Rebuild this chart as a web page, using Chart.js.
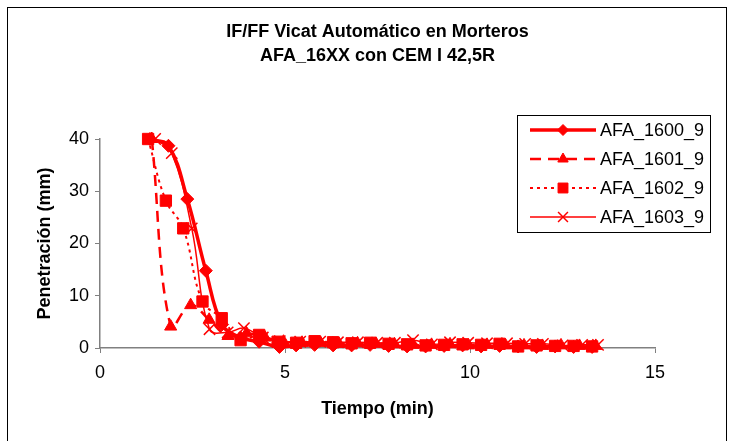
<!DOCTYPE html>
<html>
<head>
<meta charset="utf-8">
<script src="https://cdn.jsdelivr.net/npm/chart.js@4.4.1/dist/chart.umd.min.js"></script>
<style>
  html, body { margin: 0; padding: 0; background: #fff; }
  #wrap { width: 730px; height: 441px; }
</style>
</head>
<body>
<div id="wrap"><canvas id="grafico" width="730" height="441"></canvas></div>
<script>
// Textos do gráfico
const titulo = ['IF/FF Vicat Automático en Morteros', 'AFA_16XX con CEM I 42,5R'];
const tituloX = 'Tiempo (min)';
const tituloY = 'Penetración (mm)';
const nomesSeries = ['AFA_1600_9', 'AFA_1601_9', 'AFA_1602_9', 'AFA_1603_9'];

// Tempos (min) e penetração (mm) por série
const tempo1600 = [1.35, 1.85, 2.36, 2.86, 3.3, 3.8, 4.3, 4.85, 5.3, 5.8, 6.3, 6.8, 7.3, 7.8, 8.3, 8.8, 9.3, 9.8, 10.3, 10.8, 11.3, 11.8, 12.3, 12.8, 13.3];
const pen1600 = [40, 38.7, 28.5, 14.8, 4.5, 2.0, 1.2, 0.2, 0.5, 0.6, 0.5, 0.5, 0.6, 0.4, 0.3, 0.3, 0.4, 0.5, 0.3, 0.4, 0.3, 0.2, 0.3, 0.2, 0.2];

const tempo1601 = [1.4, 1.91, 2.45, 2.95, 3.46, 3.96, 4.46, 4.96, 5.46, 5.96, 6.46, 6.96, 7.46, 7.96, 8.46, 8.96, 9.46, 9.96, 10.46, 10.96, 11.46, 11.96, 12.46, 12.96, 13.4];
const pen1601 = [40, 4.1, 8.2, 5.4, 2.3, 2.8, 2.0, 1.2, 1.0, 1.0, 0.8, 0.9, 0.8, 0.7, 0.6, 0.6, 0.7, 0.5, 0.6, 0.5, 0.5, 0.4, 0.5, 0.4, 0.4];

const tempo1602 = [1.3, 1.78, 2.25, 2.77, 3.29, 3.8, 4.3, 4.8, 5.3, 5.8, 6.3, 6.8, 7.3, 7.8, 8.3, 8.8, 9.3, 9.8, 10.3, 10.8, 11.3, 11.8, 12.3, 12.8, 13.3];
const pen1602 = [40, 28.2, 22.9, 8.9, 5.7, 1.5, 2.5, 1.2, 1.0, 1.3, 1.1, 0.9, 1.0, 0.8, 0.7, 0.5, 0.6, 0.7, 0.6, 0.8, 0.3, 0.5, 0.4, 0.4, 0.3];

const tempo1603 = [1.49, 1.94, 2.48, 2.96, 3.45, 3.89, 4.4, 4.86, 5.41, 5.95, 6.43, 6.97, 7.49, 7.97, 8.46, 8.97, 9.46, 9.95, 10.46, 11.0, 11.49, 11.97, 12.5, 13.03, 13.46];
const pen1603 = [40, 37.3, 22.9, 3.6, 3.0, 3.8, 2.0, 1.3, 1.2, 1.2, 1.1, 1.1, 1.0, 1.0, 1.5, 0.7, 1.1, 1.0, 0.9, 0.9, 0.8, 0.8, 0.5, 0.6, 0.6];

// Eixos
const eixoX = { min: 0, max: 15, passo: 5 };
const eixoY = { min: 0, max: 40, passo: 10 };

function pontos(tempos, valores) {
    return tempos.map((t, i) => ({ x: t, y: valores[i] }));
}

const vermelho = '#ff0000';
const fonte = 'Liberation Sans, Arial, sans-serif';

const datasets = [
    {
        label: nomesSeries[0],
        data: pontos(tempo1600, pen1600),
        borderColor: vermelho, backgroundColor: vermelho,
        borderWidth: 3.5, pointStyle: 'rectRot', pointRadius: 6.5, pointBorderWidth: 1
    },
    {
        label: nomesSeries[1],
        data: pontos(tempo1601, pen1601),
        borderColor: vermelho, backgroundColor: vermelho,
        borderWidth: 2.5, borderDash: [11, 7], pointStyle: 'triangle', pointRadius: 7, pointBorderWidth: 1
    },
    {
        label: nomesSeries[2],
        data: pontos(tempo1602, pen1602),
        borderColor: vermelho, backgroundColor: vermelho,
        borderWidth: 2, borderDash: [3, 4], pointStyle: 'rect', pointRadius: 8, pointBorderWidth: 1
    },
    {
        label: nomesSeries[3],
        data: pontos(tempo1603, pen1603),
        borderColor: vermelho, backgroundColor: vermelho,
        borderWidth: 1.5, pointStyle: 'crossRot', pointRadius: 8, pointBorderWidth: 1.5
    }
];

// Moldura, títulos e legenda desenhados à mão
const pluginTextos = {
    id: 'textos',
    afterDraw(chart) {
        const ctx = chart.ctx;
        const area = chart.chartArea;
        ctx.save();

        // moldura externa
        ctx.strokeStyle = '#000';
        ctx.lineWidth = 1;
        ctx.strokeRect(7.5, 7.5, 719, 440);

        ctx.fillStyle = '#000';
        ctx.textAlign = 'center';
        ctx.textBaseline = 'middle';
        ctx.font = 'bold 18px ' + fonte;
        const cx = (area.left + area.right) / 2;
        ctx.fillText(titulo[0], cx, 32);
        ctx.fillText(titulo[1], cx, 56);

        ctx.fillText(tituloX, cx, 409);
        ctx.save();
        ctx.translate(45, (area.top + area.bottom) / 2);
        ctx.rotate(-Math.PI / 2);
        ctx.fillText(tituloY, 0, 0);
        ctx.restore();

        // legenda
        ctx.fillStyle = '#fff';
        ctx.fillRect(517, 115, 194, 118);
        ctx.strokeStyle = '#000';
        ctx.strokeRect(517.5, 115.5, 193, 117);
        const linhas = [130, 159, 188, 217];
        chart.data.datasets.forEach((ds, i) => {
            const y = linhas[i];
            ctx.save();
            ctx.strokeStyle = ds.borderColor;
            ctx.lineWidth = ds.borderWidth;
            ctx.setLineDash(ds.borderDash || []);
            ctx.beginPath();
            ctx.moveTo(530, y);
            ctx.lineTo(596, y);
            ctx.stroke();
            ctx.restore();
            ctx.save();
            ctx.fillStyle = ds.backgroundColor;
            ctx.strokeStyle = ds.borderColor;
            ctx.lineWidth = ds.pointBorderWidth;
            Chart.helpers.drawPoint(ctx, {
                pointStyle: ds.pointStyle, radius: ds.pointRadius - 1, rotation: 0, borderWidth: ds.pointBorderWidth
            }, 563, y);
            ctx.restore();
            ctx.fillStyle = '#000';
            ctx.textAlign = 'left';
            ctx.font = '18px ' + fonte;
            ctx.fillText(ds.label, 600, y + 1);
        });
        ctx.restore();
    }
};

const config = {
    type: 'line',
    data: { datasets: datasets },
    options: {
        responsive: false,
        animation: false,
        layout: { padding: { top: 139, right: 75, bottom: 0, left: 0 } },
        elements: { line: { tension: 0.4 } },
        datasets: { line: { clip: false } },
        plugins: {
            legend: { display: false },
            title: { display: false },
            tooltip: { enabled: false }
        },
        scales: {
            x: {
                type: 'linear',
                min: eixoX.min, max: eixoX.max,
                afterFit(scale) { scale.height = 93; },
                ticks: { stepSize: eixoX.passo, color: '#000', padding: 9, font: { family: fonte, size: 18 } },
                grid: { display: true, drawOnChartArea: false, tickLength: 5, color: '#808080' },
                border: { color: '#808080', width: 1.5 }
            },
            y: {
                min: eixoY.min, max: eixoY.max,
                afterFit(scale) { scale.width = 100; },
                ticks: { stepSize: eixoY.passo, color: '#000', padding: 6, font: { family: fonte, size: 18 } },
                grid: { display: true, drawOnChartArea: false, tickLength: 5, color: '#808080' },
                border: { color: '#808080', width: 1.5 }
            }
        }
    },
    plugins: [pluginTextos]
};

const meuGrafico = new Chart(document.getElementById('grafico'), config);
</script>
</body>
</html>
